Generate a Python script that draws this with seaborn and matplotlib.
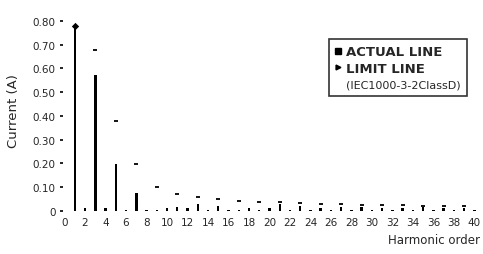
import matplotlib
matplotlib.use("Agg")
import matplotlib.pyplot as plt
from matplotlib.lines import Line2D
import pandas as pd
import seaborn as sns

# harmonic orders and measured current (A)
harmonics = list(range(1, 41))
actual = [0.78, 0.012, 0.573, 0.012, 0.198, 0.004, 0.076, 0.004, 0.006, 0.012,
          0.015, 0.012, 0.030, 0.004, 0.020, 0.004, 0.006, 0.012, 0.004, 0.012,
          0.028, 0.004, 0.020, 0.004, 0.012, 0.004, 0.015, 0.004, 0.018, 0.004,
          0.012, 0.004, 0.014, 0.004, 0.018, 0.004, 0.012, 0.004, 0.014, 0.004]

# limit line (IEC1000-3-2 Class D), odd harmonics only
limit_orders = [3, 5, 7, 9, 11, 13, 15, 17, 19, 21, 23, 25, 27, 29, 31, 33, 35, 37, 39]
limit_values = [0.678, 0.379, 0.198, 0.100, 0.072, 0.059, 0.050, 0.042, 0.038, 0.036,
                0.034, 0.031, 0.029, 0.027, 0.025, 0.024, 0.022, 0.021, 0.020]

y_ticks = [0, 0.1, 0.2, 0.3, 0.4, 0.5, 0.6, 0.7, 0.8]
y_tick_labels = ["0", "0.10", "0.20", "0.30", "0.40", "0.50", "0.60", "0.70", "0.80"]
x_ticks = list(range(0, 41, 2))

sns.set_theme(style="white")
plt.rcParams["font.family"] = ["DejaVu Sans"]

df = pd.DataFrame({"order": harmonics, "current": actual})
lim = pd.DataFrame({"order": limit_orders, "limit": limit_values})

fig = plt.figure(figsize=(4.83, 2.55), dpi=100)
ax = fig.add_axes([0.1294, 0.1686, 0.8656, 0.7922])

sns.barplot(data=df, x="order", y="current", native_scale=True, width=0.24,
            color="black", linewidth=0, ax=ax)
sns.scatterplot(data=lim, x="order", y="limit", marker="_", s=10, color="black",
                linewidth=1.3, ax=ax)
# fundamental top marker
sns.scatterplot(x=harmonics[:1], y=actual[:1], marker="D", s=14, color="black",
                linewidth=0, ax=ax)

ax.set_xlim(-0.2, 40.6)
ax.set_ylim(0, 0.85)
ax.set_xticks(x_ticks)
ax.set_xticklabels([str(t) for t in x_ticks], fontsize=7.5)
ax.set_yticks(y_ticks)
ax.set_yticklabels(y_tick_labels, fontsize=7.5)
ax.tick_params(axis="y", length=2, width=1.2, pad=3, color="black", left=True)
ax.tick_params(axis="x", length=0, pad=4)
for s in ax.spines.values():
    s.set_visible(False)

ax.set_ylabel("Current (A)", fontsize=9.5, labelpad=9)
ax.set_xlabel("")
fig.text(0.994, 0.055, "Harmonic order", fontsize=8.5, ha="right", va="center")

handles = [Line2D([], [], marker="s", color="black", linestyle="none", markersize=4.5),
           Line2D([], [], marker=">", color="black", linestyle="none", markersize=3.5),
           Line2D([], [], linestyle="none")]
leg = ax.legend(handles, ["ACTUAL LINE", "LIMIT LINE", "(IEC1000-3-2ClassD)"],
                loc="upper right", bbox_to_anchor=(0.983, 0.885), frameon=True,
                fancybox=False, edgecolor="black", handlelength=0.4,
                handletextpad=0.4, borderpad=0.5, labelspacing=0.25, fontsize=9.5)
leg.get_frame().set_linewidth(1.2)
texts = leg.get_texts()
texts[0].set_fontweight("bold")
texts[1].set_fontweight("bold")
texts[2].set_fontsize(8)

fig.savefig("out.png", dpi=100)
